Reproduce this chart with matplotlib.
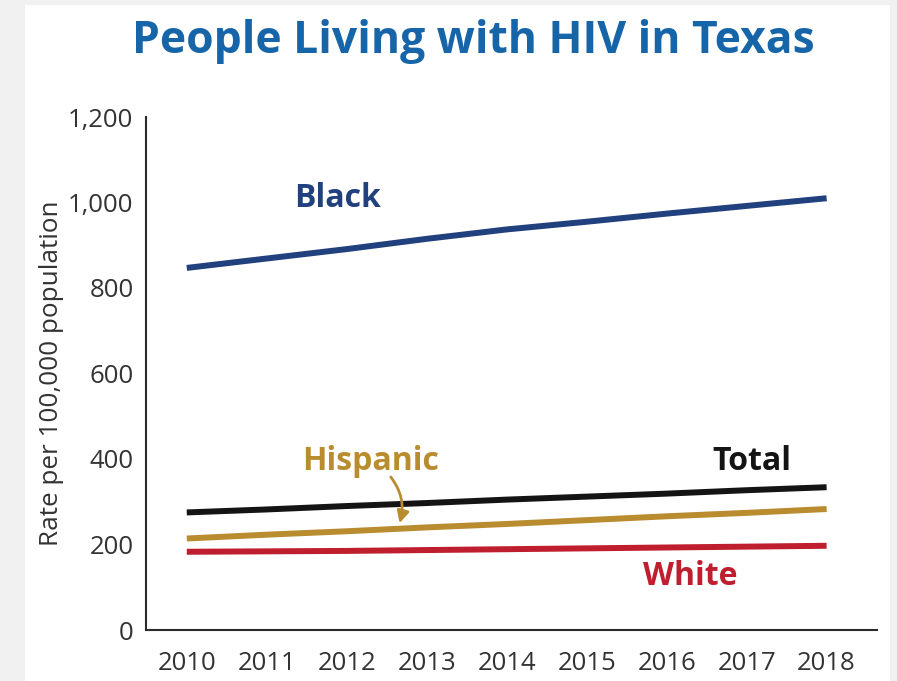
#!/usr/bin/env python3

import matplotlib
matplotlib.use('Agg')
import matplotlib.pyplot as plt
from matplotlib.patches import Rectangle

years = [2010, 2011, 2012, 2013, 2014, 2015, 2016, 2017, 2018]
black = [847, 869, 891, 915, 937, 955, 974, 992, 1010]
total = [275, 282, 290, 297, 305, 312, 319, 327, 334]
hispanic = [214, 223, 231, 240, 248, 257, 266, 274, 283]
white = [183, 184, 185, 187, 189, 191, 193, 195, 197]
yticks = [0, 200, 400, 600, 800, 1000, 1200]

col_black = '#21407e'
col_total = '#141414'
col_hisp = '#b98c2f'
col_white = '#bf1e2e'
col_title = '#1765a9'
col_text = '#333333'

plt.rcParams['font.family'] = ['Open Sans', 'DejaVu Sans']

fig = plt.figure(figsize=(8.97, 6.81), dpi=100)
fig.patch.set_facecolor('#f1f1f1')
fig.patches.append(Rectangle((25 / 897, 0), 865 / 897, 676 / 681, transform=fig.transFigure,
                             facecolor='white', edgecolor='none', zorder=-1))

ax = fig.add_axes([146 / 897, 51 / 681, 731 / 897, 513 / 681])
ax.set_facecolor('none')

lw = 4.3
ax.plot(years, black, color=col_black, lw=lw, solid_capstyle='butt')
ax.plot(years, total, color=col_total, lw=lw, solid_capstyle='butt')
ax.plot(years, hispanic, color=col_hisp, lw=lw, solid_capstyle='butt')
ax.plot(years, white, color=col_white, lw=lw, solid_capstyle='butt')

ax.set_xlim(2009.49, 2018.63)
ax.set_ylim(0, 1200)
ax.set_xticks(years)
ax.set_yticks(yticks)
ax.set_yticklabels(['{:,}'.format(v) for v in yticks])
ax.tick_params(axis='both', length=0, labelsize=18.5, colors=col_text)
ax.tick_params(axis='x', pad=15)
ax.tick_params(axis='y', pad=9)

for s in ['top', 'right']:
    ax.spines[s].set_visible(False)
for s in ['left', 'bottom']:
    ax.spines[s].set_color('#2b2b2b')
    ax.spines[s].set_linewidth(1.5)

ax.set_ylabel('Rate per 100,000 population', fontsize=18.8, color=col_text, labelpad=3)

lab = dict(fontsize=23, fontweight='bold', ha='center', va='center')
ax.text(2011.89, 1010, 'Black', color=col_black, **lab)
ax.text(2012.3, 395, 'Hispanic', color=col_hisp, **lab)
ax.text(2017.06, 393, 'Total', color=col_total, **lab)
ax.text(2016.29, 126, 'White', color=col_white, **lab)

ax.annotate('', xy=(2012.66, 250), xytext=(2012.55, 358),
            arrowprops=dict(arrowstyle='-|>', color=col_hisp, lw=2,
                            mutation_scale=18, shrinkA=0, shrinkB=0,
                            connectionstyle='arc3,rad=-0.25'))

fig.text(0.528, 1 - 53 / 681, 'People Living with HIV in Texas', color=col_title,
         fontsize=32, fontweight='bold', ha='center', va='baseline')

fig.savefig('out.png', dpi=100, facecolor=fig.get_facecolor())
